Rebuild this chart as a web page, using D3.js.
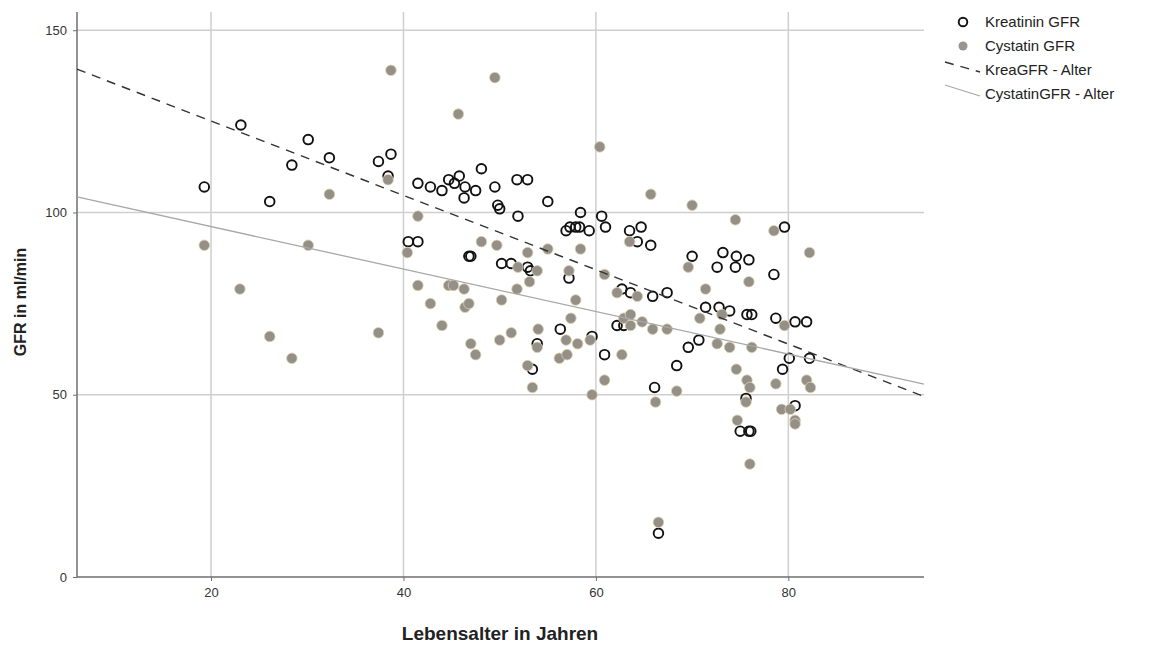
<!DOCTYPE html>
<html>
<head>
<meta charset="utf-8">
<script src="https://cdn.jsdelivr.net/npm/d3@7"></script>
<style>
  html, body { margin: 0; padding: 0; background: #fff; }
  svg { display: block; font-family: "Liberation Sans", Arial, sans-serif; }
</style>
</head>
<body>
<svg id="chart" width="1157" height="646"></svg>
<script>
// Age (years) and GFR (ml/min) per patient, creatinine-based estimate
const kreaAge = [19.3, 23.1, 26.1, 28.4, 30.1, 32.3, 37.4, 38.4, 38.7, 40.5, 41.5, 41.5, 42.8, 44.0, 44.7, 45.3, 45.8, 46.4, 46.3, 46.8, 47.0, 47.5, 48.1, 49.5, 49.8, 50.0, 50.2, 51.2, 51.8, 52.9, 51.9, 52.9, 53.2, 53.9, 53.4, 55.0, 56.9, 57.3, 57.9, 58.3, 58.4, 59.3, 60.6, 61.0, 57.2, 56.3, 59.6, 60.9, 62.2, 62.9, 62.7, 63.6, 63.5, 64.7, 64.3, 65.7, 65.9, 67.4, 66.1, 66.5, 68.4, 69.6, 70.7, 70.0, 71.4, 72.8, 73.9, 72.6, 73.2, 74.5, 74.6, 75.9, 75.7, 76.2, 75.6, 75.0, 75.9, 76.1, 78.5, 78.7, 79.6, 79.4, 80.1, 80.7, 81.9, 82.2, 80.7];
const kreaGFR = [107, 124, 103, 113, 120, 115, 114, 110, 116, 92, 92, 108, 107, 106, 109, 108, 110, 107, 104, 88, 88, 106, 112, 107, 102, 101, 86, 86, 109, 109, 99, 85, 84, 64, 57, 103, 95, 96, 96, 96, 100, 95, 99, 96, 82, 68, 66, 61, 69, 69, 79, 78, 95, 96, 92, 91, 77, 78, 52, 12, 58, 63, 65, 88, 74, 74, 73, 85, 89, 85, 88, 87, 72, 72, 49, 40, 40, 40, 83, 71, 96, 57, 60, 70, 70, 60, 47];

// Age (years) and GFR (ml/min) per patient, cystatin-C-based estimate
const cysAge = [19.3, 23.0, 26.1, 28.4, 30.1, 32.3, 37.4, 38.4, 38.7, 40.4, 41.5, 41.5, 42.8, 44.0, 44.7, 45.2, 45.7, 46.3, 46.4, 46.8, 47.0, 47.5, 48.1, 49.5, 49.7, 50.2, 50.0, 51.2, 51.8, 51.9, 52.9, 53.1, 52.9, 53.4, 53.9, 54.0, 53.9, 55.0, 56.2, 57.0, 56.9, 57.2, 57.4, 57.9, 58.1, 58.4, 59.4, 59.6, 60.4, 60.9, 60.9, 62.2, 62.7, 62.9, 63.5, 63.6, 63.6, 64.3, 64.8, 65.7, 65.9, 66.2, 66.5, 67.4, 68.4, 69.6, 70.0, 70.8, 71.4, 72.6, 72.9, 73.1, 73.9, 74.5, 74.6, 74.7, 75.6, 75.7, 75.9, 76.0, 76.0, 76.2, 78.5, 78.7, 79.3, 79.6, 80.2, 80.7, 80.7, 81.9, 82.2, 82.3];
const cysGFR = [91, 79, 66, 60, 91, 105, 67, 109, 139, 89, 99, 80, 75, 69, 80, 80, 127, 79, 74, 75, 64, 61, 92, 137, 91, 76, 65, 67, 79, 85, 89, 81, 58, 52, 84, 68, 63, 90, 60, 61, 65, 84, 71, 76, 64, 90, 65, 50, 118, 83, 54, 78, 61, 71, 92, 72, 69, 77, 70, 105, 68, 48, 15, 68, 51, 85, 102, 71, 79, 64, 68, 72, 63, 98, 57, 43, 48, 54, 81, 52, 31, 63, 95, 53, 46, 69, 46, 43, 42, 54, 89, 52];

// Linear fits GFR = intercept + slope * age
const kreaFit = { intercept: 145.5, slope: -1.02 };
const cysFit = { intercept: 107.8, slope: -0.583 };

const xTicks = [20, 40, 60, 80];
const yTicks = [0, 50, 100, 150];
const legendLabels = ["Kreatinin GFR", "Cystatin GFR", "KreaGFR - Alter", "CystatinGFR - Alter"];

const svg = d3.select("#chart");
const plot = { left: 77, right: 924, top: 12, bottom: 577 };

const x = d3.scaleLinear().domain([6.07, 94.1]).range([plot.left, plot.right]);
const y = d3.scaleLinear().domain([0, 155]).range([plot.bottom, plot.top]);

const gridColor = "#cfcfcf";
const axisColor = "#6e6e6e";

// grid lines
svg.append("g").selectAll("line").data(yTicks.filter(d => d > 0)).join("line")
  .attr("x1", plot.left).attr("x2", plot.right)
  .attr("y1", d => y(d)).attr("y2", d => y(d))
  .attr("stroke", gridColor).attr("stroke-width", 1.5);
svg.append("g").selectAll("line").data(xTicks).join("line")
  .attr("x1", d => x(d)).attr("x2", d => x(d))
  .attr("y1", plot.top).attr("y2", plot.bottom)
  .attr("stroke", gridColor).attr("stroke-width", 1.5);

// axes
const xAxis = svg.append("g").attr("transform", `translate(0,${plot.bottom})`)
  .call(d3.axisBottom(x).tickValues(xTicks).tickSize(4).tickPadding(7));
const yAxis = svg.append("g").attr("transform", `translate(${plot.left},0)`)
  .call(d3.axisLeft(y).tickValues(yTicks).tickSize(4).tickPadding(6));
[xAxis, yAxis].forEach(a => {
  a.select(".domain").attr("stroke", axisColor).attr("stroke-width", 1.5);
  a.selectAll(".tick line").attr("stroke", axisColor);
  a.selectAll(".tick text").attr("fill", "#333").style("font-size", "13px")
    .style("font-family", "'Liberation Sans', Arial, sans-serif");
});
xAxis.select(".domain").attr("d", `M${plot.left},0H${plot.right}`);
yAxis.select(".domain").attr("d", `M0,${plot.bottom}V${plot.top}`);

// creatinine points (open circles)
svg.append("g").selectAll("circle").data(kreaAge.map((a, i) => [a, kreaGFR[i]])).join("circle")
  .attr("cx", d => x(d[0])).attr("cy", d => y(d[1])).attr("r", 4.8)
  .attr("fill", "none").attr("stroke", "#111").attr("stroke-width", 1.9);

// cystatin points (filled gray)
svg.append("g").selectAll("circle").data(cysAge.map((a, i) => [a, cysGFR[i]])).join("circle")
  .attr("cx", d => x(d[0])).attr("cy", d => y(d[1])).attr("r", 5.3)
  .attr("fill", "#948f89").attr("stroke", "#ddd3a8").attr("stroke-width", 0.8);

// regression lines
const dom = x.domain();
const fitLine = f => dom.map(a => [x(a), y(f.intercept + f.slope * a)]);
svg.append("path").attr("d", d3.line()(fitLine(kreaFit)))
  .attr("stroke", "#333").attr("stroke-width", 1.4).attr("stroke-dasharray", "9,7").attr("fill", "none");
svg.append("path").attr("d", d3.line()(fitLine(cysFit)))
  .attr("stroke", "#a8a8a8").attr("stroke-width", 1.3).attr("fill", "none");

// axis titles
svg.append("text").attr("x", 500).attr("y", 640).attr("text-anchor", "middle")
  .style("font-size", "19px").style("font-weight", "bold").attr("fill", "#222")
  .text("Lebensalter in Jahren");
svg.append("text").attr("transform", "translate(26,302) rotate(-90)").attr("text-anchor", "middle")
  .style("font-size", "16px").style("font-weight", "bold").attr("fill", "#222")
  .text("GFR in ml/min");

// legend
const lg = svg.append("g");
const rowY = [22, 46, 70, 94];
lg.append("circle").attr("cx", 963).attr("cy", rowY[0]).attr("r", 4.3)
  .attr("fill", "none").attr("stroke", "#111").attr("stroke-width", 1.9);
lg.append("circle").attr("cx", 963).attr("cy", rowY[1]).attr("r", 4.5).attr("fill", "#9a9590");
lg.append("path").attr("d", "M945,62L980,72").attr("stroke", "#333").attr("stroke-width", 1.4)
  .attr("stroke-dasharray", "9,7").attr("fill", "none");
lg.append("path").attr("d", "M945,85L980,96").attr("stroke", "#a8a8a8").attr("stroke-width", 1.3).attr("fill", "none");
lg.selectAll("text").data(legendLabels).join("text")
  .attr("x", 985).attr("y", (d, i) => rowY[i] + 5)
  .style("font-size", "15px").attr("fill", "#222").text(d => d);
</script>
</body>
</html>
